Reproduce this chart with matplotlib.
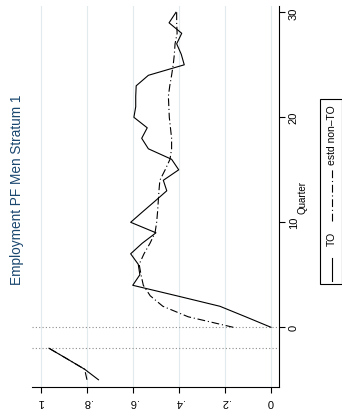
import numpy as np
import matplotlib
matplotlib.use('Agg')
import matplotlib.pyplot as plt
from matplotlib.lines import Line2D
from matplotlib.patches import Rectangle

plt.rcParams['font.family'] = ['Liberation Sans', 'DejaVu Sans']

# data (quarter -1 is missing)
quarters = np.arange(-5, 31)
to_emp = [0.75, 0.81, 0.887, 0.965, np.nan,
          0.0, 0.11, 0.222, 0.41, 0.601, 0.57, 0.577, 0.61, 0.56, 0.50,
          0.61, 0.558, 0.505, 0.453, 0.468, 0.401, 0.432, 0.533, 0.562, 0.538,
          0.596, 0.588, 0.588, 0.586, 0.533, 0.377, 0.39, 0.41, 0.388, 0.443,
          0.413]
estd_non_to = [0.80, 0.81, 0.887, 0.965, np.nan,
               0.164, 0.36, 0.47, 0.525, 0.555, 0.565, 0.573, 0.552, 0.526, 0.504,
               0.497, 0.493, 0.49, 0.487, 0.483, 0.46, 0.439, 0.432, 0.432, 0.437,
               0.442, 0.444, 0.446, 0.44, 0.432, 0.425, 0.42, 0.417, 0.408, 0.41,
               0.41]
ref_quarters = [-2, 0]
value_ticks = [0, 0.2, 0.4, 0.6, 0.8, 1]
value_labels = ['0', '.2', '.4', '.6', '.8', '1']
quarter_ticks = [0, 10, 20, 30]
title = 'Employment PF Men Stratum 1'
legend_labels = ['TO', 'estd non\u2013TO']

W, H = 342, 414
fig = plt.figure(figsize=(W / 100, H / 100), dpi=100)

def fx(x):
    return x / W

def fy(y):
    return 1 - y / H

# chart is drawn turned a quarter turn: value runs right-to-left, quarter upward
ax = fig.add_axes([fx(32), fy(387.7), fx(279) - fx(32), fy(6.7) - fy(387.7)])
grid_col = '#e1eaed'
for v in value_ticks:
    ax.axvline(v, color=grid_col, lw=0.8, zorder=0)
for q in ref_quarters:
    ax.axhline(q, color='#8c8c8c', lw=0.8, ls=(0, (1, 2)), zorder=1)

ax.plot(estd_non_to, quarters, color='black', lw=0.8, dashes=(7, 2.5, 1, 2.5), zorder=2)
ax.plot(to_emp, quarters, color='black', lw=0.8, zorder=3)

ax.set_xlim(1.039, -0.035)
ax.set_ylim(-5.66, 30.63)

for s in ['top', 'left']:
    ax.spines[s].set_visible(False)
for s in ['bottom', 'right']:
    ax.spines[s].set_linewidth(0.8)

ax.set_xticks(value_ticks)
ax.set_xticklabels(value_labels, rotation=180, fontsize=8)
ax.yaxis.tick_right()
ax.set_yticks(quarter_ticks)
ax.set_yticklabels([str(q) for q in quarter_ticks], rotation=90, va='center', fontsize=8)
ax.tick_params(length=4, width=0.8, pad=3)

fig.text(fx(302), fy(198), 'Quarter', rotation=90, ha='center', va='center', fontsize=7)
fig.text(fx(17), fy(190), title, rotation=90, ha='center', va='center',
         fontsize=9.8, color='#1a476f')

# legend box
fig.add_artist(Rectangle((fx(320), fy(285)), fx(341.5) - fx(320), fy(100) - fy(285),
                         transform=fig.transFigure, fill=False, lw=0.8, ec='black'))
fig.add_artist(Line2D([fx(331.5), fx(331.5)], [fy(282), fy(259)],
                      transform=fig.transFigure, color='black', lw=0.8))
fig.text(fx(332), fy(238.5), legend_labels[0], rotation=90, ha='center', va='center', fontsize=7.5)
fig.add_artist(Line2D([fx(331.5), fx(331.5)], [fy(222), fy(170)],
                      transform=fig.transFigure, color='black', lw=0.8, dashes=(7, 2.5, 1, 2.5)))
fig.text(fx(332), fy(135), legend_labels[1], rotation=90, ha='center', va='center', fontsize=7.5)

fig.savefig('out.png', dpi=100)
